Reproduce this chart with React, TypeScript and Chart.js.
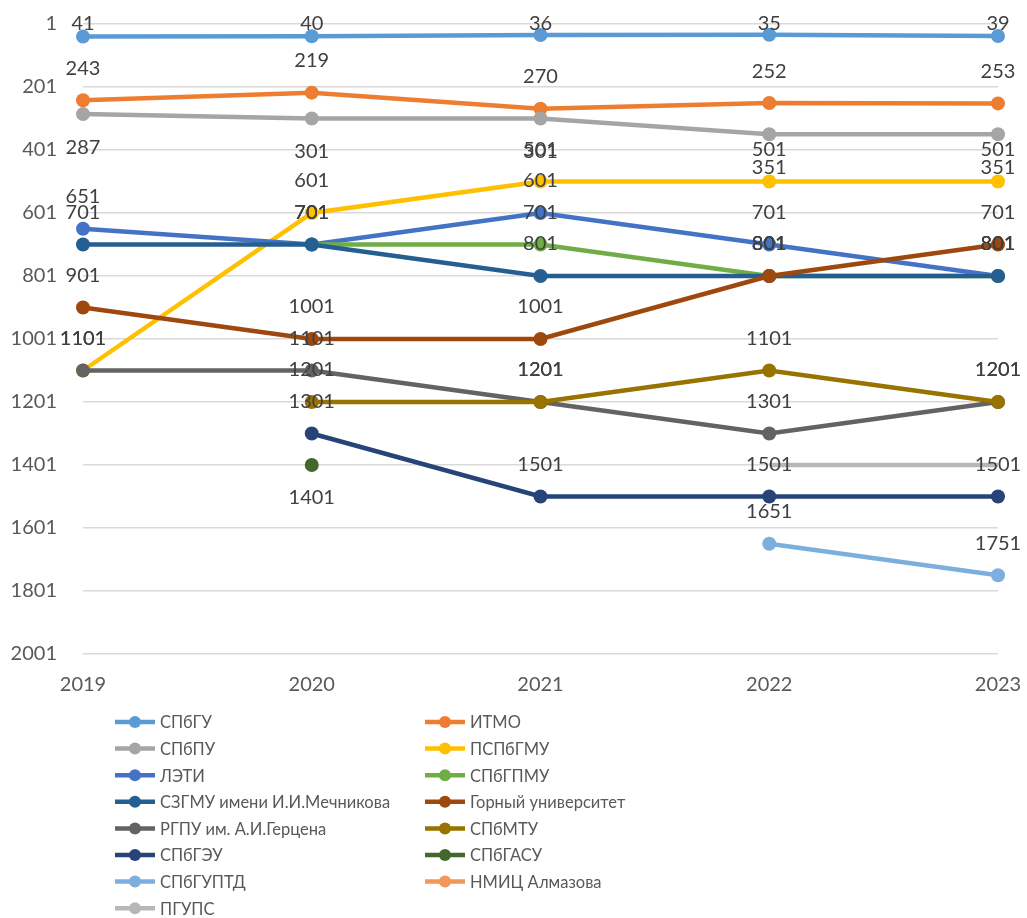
import { useEffect, useRef } from 'react';
import { Chart, registerables } from 'chart.js';

Chart.register(...registerables);

const FONT = 'Lato, "Liberation Sans", sans-serif';

const years = ['2019', '2020', '2021', '2022', '2023'];
const yTicks = [1, 201, 401, 601, 801, 1001, 1201, 1401, 1601, 1801, 2001];

const spbgu = [41, 40, 36, 35, 39];
const itmo = [243, 219, 270, 252, 253];
const spbpu = [287, 301, 301, 351, 351];
const pspbgmu = [1101, 601, 501, 501, 501];
const leti = [651, 701, 601, 701, 801];
const spbgpmu = [null, 701, 701, 801, 801];
const szgmu = [701, 701, 801, 801, 801];
const gorny = [901, 1001, 1001, 801, 701];
const rgpu = [1101, 1101, 1201, 1301, 1201];
const spbmtu = [null, 1201, 1201, 1101, 1201];
const spbgeu = [null, 1301, 1501, 1501, 1501];
const spbgasu = [null, 1401, null, null, null];
const spbguptd = [null, null, null, 1651, 1751];
const nmic = [null, null, null, null, null];
const pgups = [null, null, null, 1401, 1401];

const seriesNames = [
  'СПбГУ', 'ИТМО', 'СПбПУ', 'ПСПбГМУ', 'ЛЭТИ', 'СПбГПМУ', 'СЗГМУ имени И.И.Мечникова',
  'Горный университет', 'РГПУ им. А.И.Герцена', 'СПбМТУ', 'СПбГЭУ', 'СПбГАСУ', 'СПбГУПТД',
  'НМИЦ Алмазова', 'ПГУПС',
];
const seriesData = [spbgu, itmo, spbpu, pspbgmu, leti, spbgpmu, szgmu, gorny, rgpu, spbmtu, spbgeu, spbgasu, spbguptd, nmic, pgups];
const seriesColors = [
  '#5B9BD5', '#ED7D31', '#A5A5A5', '#FFC000', '#4472C4', '#70AD47', '#255E91',
  '#9E480E', '#636363', '#997300', '#264478', '#43682B', '#7CAFDD', '#F1975A', '#B7B7B7',
];
const labelsBelow = ['СПбПУ', 'СПбГАСУ'];
const noLabels = ['НМИЦ Алмазова', 'ПГУПС'];
const noMarkers = ['ПГУПС'];

const dataLabelPlugin = {
  id: 'dataLabels',
  afterDatasetsDraw(chart: any) {
    const ctx = chart.ctx;
    ctx.save();
    ctx.font = `20px ${FONT}`;
    ctx.fillStyle = '#404040';
    ctx.textAlign = 'center';
    ctx.textBaseline = 'middle';
    chart.data.datasets.forEach((ds: any, i: number) => {
      if (noLabels.includes(ds.label)) return;
      const meta = chart.getDatasetMeta(i);
      meta.data.forEach((pt: any, j: number) => {
        const v = ds.data[j];
        if (v == null) return;
        const below = labelsBelow.includes(ds.label);
        const y = below ? pt.y + 33 : Math.max(pt.y - 32, 24);
        ctx.fillText(String(v), pt.x, y);
      });
    });
    ctx.restore();
  },
};

const legendPlugin = {
  id: 'customLegend',
  afterDraw(chart: any) {
    const ctx = chart.ctx;
    ctx.save();
    ctx.font = `16.5px ${FONT}`;
    ctx.textAlign = 'left';
    ctx.textBaseline = 'middle';
    chart.data.datasets.forEach((ds: any, k: number) => {
      const col = k % 2;
      const row = Math.floor(k / 2);
      const x0 = col === 0 ? 115 : 425;
      const y = 722 + row * 26.6;
      ctx.strokeStyle = ds.borderColor;
      ctx.lineWidth = 4.5;
      ctx.beginPath();
      ctx.moveTo(x0, y);
      ctx.lineTo(x0 + 40, y);
      ctx.stroke();
      ctx.fillStyle = ds.borderColor;
      ctx.beginPath();
      ctx.arc(x0 + 20, y, 6, 0, Math.PI * 2);
      ctx.fill();
      ctx.fillStyle = '#595959';
      ctx.fillText(ds.label, x0 + 45, y + 1);
    });
    ctx.restore();
  },
};

export default function App() {
  const ref = useRef<HTMLCanvasElement>(null);
  useEffect(() => {
    let chart: Chart | null = null;
    let cancelled = false;
    const make = () => {
      if (cancelled || !ref.current) return;
      const n = seriesNames.length;
      chart = new Chart(ref.current, {
        type: 'line',
        data: {
          labels: years,
          datasets: seriesNames.map((name, i) => ({
            label: name,
            data: seriesData[i],
            borderColor: seriesColors[i],
            backgroundColor: seriesColors[i],
            pointBackgroundColor: seriesColors[i],
            pointBorderWidth: 0,
            pointRadius: noMarkers.includes(name) ? 0 : 7,
            borderWidth: 4.5,
            tension: 0,
            spanGaps: false,
            order: n - i,
          })),
        },
        options: {
          animation: false,
          responsive: false,
          maintainAspectRatio: false,
          layout: { padding: { top: 24, right: 29, left: 0, bottom: 0 } },
          plugins: { legend: { display: false }, tooltip: { enabled: false } },
          scales: {
            x: {
              offset: false,
              grid: { display: false, drawTicks: false },
              border: { display: false },
              ticks: { color: '#595959', font: { family: FONT, size: 20 }, padding: 19, maxRotation: 0 },
              afterFit: (s: any) => {
                s.height = 264;
                s.paddingLeft = 0;
                s.paddingRight = 0;
              },
            },
            y: {
              reverse: true,
              min: 1,
              max: 2001,
              afterBuildTicks: (s: any) => { s.ticks = yTicks.map((v) => ({ value: v })); },
              grid: { color: '#D9D9D9', lineWidth: 1.5, drawTicks: false },
              border: { display: false },
              ticks: {
                color: '#595959',
                font: { family: FONT, size: 20 },
                padding: 26,
                callback: (v: any) => String(v),
              },
              afterFit: (s: any) => {
                s.width = 83;
                s.paddingTop = 0;
                s.paddingBottom = 0;
              },
            },
          },
        },
        plugins: [dataLabelPlugin, legendPlugin],
      });
    };
    const fonts = (document as any).fonts;
    if (fonts && fonts.load) {
      Promise.all([fonts.load(`20px Lato`), fonts.load(`16.5px Lato`)]).then(make, make);
    } else make();
    return () => {
      cancelled = true;
      if (chart) chart.destroy();
    };
  }, []);
  return (
    <div style={{ position: 'fixed', left: 0, top: 0, width: 1027, height: 918, background: '#fff' }}>
      <canvas ref={ref} width={1027} height={918} style={{ width: 1027, height: 918, display: 'block' }} />
    </div>
  );
}
